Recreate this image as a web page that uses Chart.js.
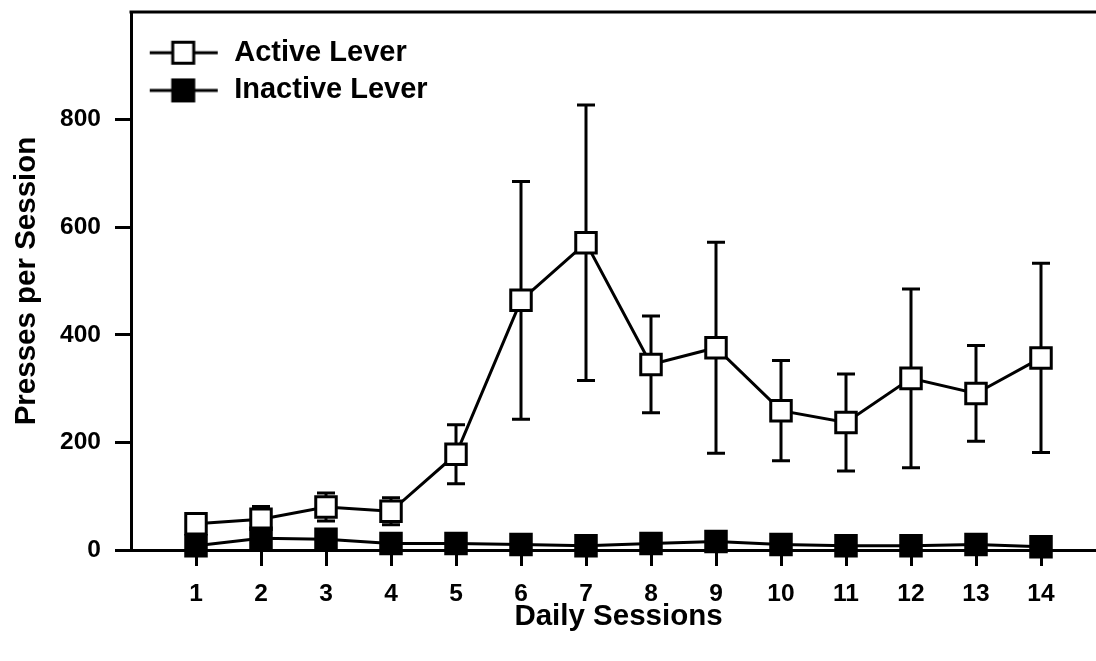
<!DOCTYPE html>
<html>
<head>
<meta charset="utf-8">
<script src="https://cdn.jsdelivr.net/npm/chart.js@4.4.1/dist/chart.umd.min.js"></script>
<style>
  html, body { margin: 0; padding: 0; background: #fff; overflow: hidden; }
  #leverChart { position: absolute; left: 0; top: 0; }
</style>
</head>
<body>
<canvas id="leverChart" width="1110" height="661"></canvas>
<script>
const sessions = [1, 2, 3, 4, 5, 6, 7, 8, 9, 10, 11, 12, 13, 14];
const activeMean = [49, 57, 80, 72, 178, 464, 571, 345, 376, 259, 237, 319, 291, 357];
const activeSem = [18, 24, 26, 25, 55, 221, 256, 90, 196, 93, 90, 166, 89, 176];
const inactiveMean = [8, 22, 20, 12, 12, 10, 8, 12, 16, 10, 8, 8, 10, 6];
const inactiveSem = [3, 5, 5, 3, 3, 3, 2, 3, 4, 3, 2, 2, 3, 2];
const yTickValues = [0, 200, 400, 600, 800];

const FONT = "'Liberation Sans', Arial, Helvetica, sans-serif";

function toPoints(means) {
    return sessions.map((s, i) => ({ x: s, y: means[i] }));
}

// little line-through-square icon for the legend
function legendIcon(fill) {
    const c = document.createElement('canvas');
    c.width = 80;
    c.height = 28;
    const g = c.getContext('2d');
    g.strokeStyle = '#000';
    g.lineWidth = 3;
    g.beginPath();
    g.moveTo(10, 14);
    g.lineTo(78, 14);
    g.stroke();
    g.fillStyle = fill;
    g.fillRect(33, 3.5, 21, 21);
    g.strokeRect(33, 3.5, 21, 21);
    return c;
}
const legendIcons = [legendIcon('#fff'), legendIcon('#000')];

const errorBars = {
    id: 'errorBars',
    beforeDatasetsDraw(chart) {
        const { ctx, scales: { x, y } } = chart;
        ctx.save();
        ctx.strokeStyle = '#000';
        ctx.lineWidth = 3;
        chart.data.datasets.forEach((ds) => {
            ds.data.forEach((p, j) => {
                const px = x.getPixelForValue(p.x);
                const top = y.getPixelForValue(p.y + ds.errors[j]);
                const bot = y.getPixelForValue(p.y - ds.errors[j]);
                ctx.beginPath();
                ctx.moveTo(px, top);
                ctx.lineTo(px, bot);
                ctx.moveTo(px - 9, top);
                ctx.lineTo(px + 9, top);
                ctx.moveTo(px - 9, bot);
                ctx.lineTo(px + 9, bot);
                ctx.stroke();
            });
        });
        ctx.restore();
    },
    afterDraw(chart) {
        // frame: top and right edges of the plot box
        const { ctx, chartArea } = chart;
        ctx.save();
        ctx.strokeStyle = '#000';
        ctx.lineWidth = 3;
        ctx.beginPath();
        ctx.moveTo(chartArea.left - 1.5, chartArea.top);
        ctx.lineTo(chartArea.right, chartArea.top);
        ctx.lineTo(chartArea.right, chartArea.bottom);
        ctx.stroke();
        ctx.restore();
    }
};

function populateChartData() {
    return {
        datasets: [
            {
                label: 'Active Lever',
                data: toPoints(activeMean),
                errors: activeSem,
                borderColor: '#000',
                borderWidth: 3,
                pointStyle: 'rect',
                pointRadius: 14.5,
                pointHoverRadius: 14.5,
                pointBackgroundColor: '#fff',
                pointBorderColor: '#000',
                pointBorderWidth: 3,
                clip: false,
                order: 1
            },
            {
                label: 'Inactive Lever',
                data: toPoints(inactiveMean),
                errors: inactiveSem,
                borderColor: '#000',
                borderWidth: 3,
                pointStyle: 'rect',
                pointRadius: 14.5,
                pointHoverRadius: 14.5,
                pointBackgroundColor: '#000',
                pointBorderColor: '#000',
                pointBorderWidth: 3,
                clip: false,
                order: 0
            }
        ]
    };
}

function createChart(ctx, chartData) {
    return new Chart(ctx, {
        type: 'line',
        data: chartData,
        plugins: [errorBars],
        options: {
            responsive: false,
            animation: false,
            layout: { autoPadding: false, padding: { top: 12, right: 4, left: 0, bottom: 0 } },
            scales: {
                x: {
                    type: 'linear',
                    min: 0,
                    max: 15,
                    afterBuildTicks: (axis) => { axis.ticks = sessions.map(v => ({ value: v })); },
                    afterFit: (axis) => { axis.height = 111; },
                    border: { display: true, color: '#000', width: 3 },
                    grid: { drawOnChartArea: false, tickLength: 16, tickWidth: 3, tickColor: '#000', color: '#000' },
                    ticks: { color: '#000', padding: 14, maxRotation: 0, font: { family: FONT, size: 24.5, weight: 'bold' } },
                    title: {
                        display: true,
                        text: 'Daily Sessions',
                        color: '#000',
                        padding: { top: 0, bottom: 26 },
                        font: { family: FONT, size: 29.5, weight: 'bold', lineHeight: 1.2 }
                    }
                },
                y: {
                    min: 0,
                    max: 1000,
                    afterBuildTicks: (axis) => { axis.ticks = yTickValues.map(v => ({ value: v })); },
                    afterFit: (axis) => {
                        axis.width = 131;
                        axis.paddingTop = 0;
                        axis.paddingBottom = 0;
                    },
                    border: { display: true, color: '#000', width: 3 },
                    grid: { drawOnChartArea: false, tickLength: 16, tickWidth: 3, tickColor: '#000', color: '#000' },
                    ticks: { color: '#000', padding: 14, font: { family: FONT, size: 24.5, weight: 'bold' } },
                    title: {
                        display: true,
                        text: 'Presses per Session',
                        color: '#000',
                        padding: { top: 9, bottom: 0 },
                        font: { family: FONT, size: 29.5, weight: 'bold', lineHeight: 1.2 }
                    }
                }
            },
            plugins: {
                tooltip: { enabled: false },
                legend: {
                    position: 'chartArea',
                    align: 'start',
                    title: { display: true, text: '', padding: 0, font: { size: 29.5, lineHeight: 1 } },
                    labels: {
                        usePointStyle: true,
                        pointStyleWidth: 80,
                        padding: 8.7,
                        color: '#000',
                        font: { family: FONT, size: 29, weight: 'bold' },
                        sort: (a, b) => a.datasetIndex - b.datasetIndex,
                        generateLabels: (chart) => {
                            const items = Chart.defaults.plugins.legend.labels.generateLabels(chart);
                            items.forEach(it => { it.pointStyle = legendIcons[it.datasetIndex]; });
                            return items;
                        }
                    }
                }
            }
        }
    });
}

document.addEventListener('DOMContentLoaded', () => {
    const ctx = document.getElementById('leverChart').getContext('2d');
    createChart(ctx, populateChartData());
});
</script>
</body>
</html>
